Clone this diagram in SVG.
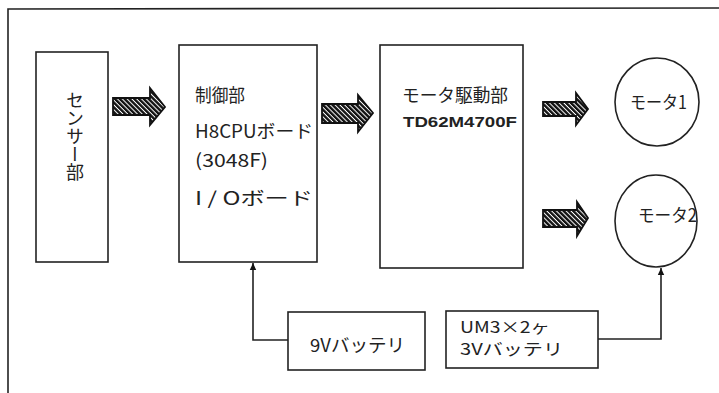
<svg xmlns="http://www.w3.org/2000/svg" width="719" height="393" viewBox="0 0 719 393">
<style>
.box{fill:#fff;stroke:#222;stroke-width:1.6}
.t{font-family:"Noto Sans CJK JP","Noto Sans",sans-serif;fill:#222;font-size:18px}
.s{font-size:16px}
.m{font-family:"Liberation Sans",Arial,sans-serif;fill:#222;font-size:15px;font-weight:bold}
.fat{fill:url(#hatch);stroke:#111;stroke-width:1.8;stroke-linejoin:miter}
.wire{fill:none;stroke:#222;stroke-width:1.6}
</style>
<defs>
<pattern id="hatch" patternUnits="userSpaceOnUse" width="3.4" height="3.4" patternTransform="rotate(-45)">
<rect width="3.4" height="3.4" fill="#fff"/>
<rect x="0" y="0" width="2.4" height="3.4" fill="#111"/>
</pattern>
<marker id="ah" markerWidth="8" markerHeight="8" refX="7" refY="4" orient="auto" markerUnits="userSpaceOnUse">
<path d="M0,0.8 L7,4 L0,7.2 Z" fill="#111"/>
</marker>
</defs>
<rect width="719" height="393" fill="#fff"/>
<g id="frame">
<path d="M8,393 L8,9 L719,8" fill="none" stroke="#222" stroke-width="1.6"/>
</g>
<g id="sensor">
<rect class="box" x="36" y="52" width="72" height="210"/>
<text class="t" x="75" y="91" writing-mode="vertical-rl" textLength="90">センサー部</text>
</g>
<g id="control">
<rect class="box" x="179" y="45" width="138" height="217"/>
<text class="t" x="195" y="102" textLength="50" lengthAdjust="spacingAndGlyphs">制御部</text>
<text class="t" x="195" y="138" textLength="118" lengthAdjust="spacingAndGlyphs">H8CPUボード</text>
<text class="t" x="195" y="167" textLength="73" lengthAdjust="spacingAndGlyphs">(3048F)</text>
<text class="t" x="195" y="205" textLength="118" lengthAdjust="spacingAndGlyphs">I / Oボード</text>
</g>
<g id="driver">
<rect class="box" x="380" y="45" width="143" height="223"/>
<text class="t" x="402" y="102" textLength="106" lengthAdjust="spacingAndGlyphs">モータ駆動部</text>
<text class="m" x="403" y="127" textLength="114" lengthAdjust="spacingAndGlyphs">TD62M4700F</text>
</g>
<g id="motor1">
<ellipse class="box" cx="657" cy="102" rx="42" ry="44"/>
<text class="t" x="630" y="109" textLength="57" lengthAdjust="spacingAndGlyphs">モータ1</text>
</g>
<g id="motor2">
<ellipse class="box" cx="656" cy="221" rx="41" ry="46"/>
<text class="t" x="638" y="222" textLength="59" lengthAdjust="spacingAndGlyphs">モータ2</text>
</g>
<g id="battery9v">
<rect class="box" x="288" y="312" width="137" height="58"/>
<text class="t" x="310" y="352" textLength="95" lengthAdjust="spacingAndGlyphs">9Vバッテリ</text>
</g>
<g id="battery3v">
<rect class="box" x="446" y="311" width="152" height="57"/>
<text class="t s" x="460" y="333" textLength="90" lengthAdjust="spacingAndGlyphs">UM3×2ヶ</text>
<text class="t s" x="460" y="355" textLength="103" lengthAdjust="spacingAndGlyphs">3Vバッテリ</text>
</g>
<g id="connectors">
<path class="fat" d="M113,98 L150,98 L150,88 L165,107 L150,125 L150,115 L113,115 Z"/>
<path class="fat" d="M322,104 L358,104 L358,95 L373,113 L358,132 L358,123 L322,123 Z"/>
<path class="fat" d="M543,102 L576,102 L576,93 L588,109 L576,125 L576,116 L543,116 Z"/>
<path class="fat" d="M543,210 L577,210 L577,202 L588,218 L577,236 L577,227 L543,227 Z"/>
<path class="wire" d="M288,340 L253,340 L253,263" marker-end="url(#ah)"/>
<path class="wire" d="M598,339 L661,339 L661,268" marker-end="url(#ah)"/>
</g>
</svg>
